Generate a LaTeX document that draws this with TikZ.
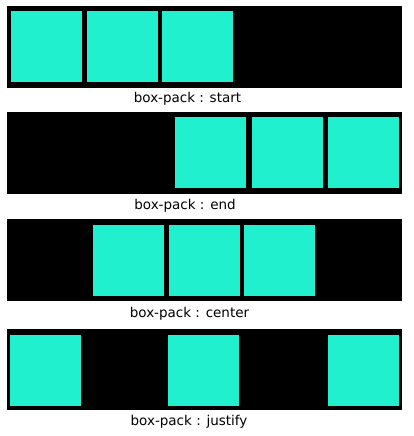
\documentclass[tikz,border=0pt]{standalone}
\usepackage{fontspec}
\setmainfont{DejaVu Sans}
\definecolor{turq}{RGB}{32,240,206}
\tikzset{
  panel/.style={fill=black,draw=none},
  cell/.style={fill=turq,draw=none,minimum size=71pt,inner sep=0pt},
  caption/.style={font=\fontsize{13.5}{15}\selectfont,inner sep=0pt}
}
\begin{document}
\begin{tikzpicture}[x=1pt,y=-1pt]
        \useasboundingbox (0,0) rectangle (413,436);
        % start
        \fill[panel] (7,6) rectangle (402,88);
        \node[cell,anchor=north west] (s1) at (11,11) {};
        \node[cell,anchor=north west] (s2) at (87,11) {};
        \node[cell,anchor=north west] (s3) at (162,11) {};
        \node[caption] (ls) at (187.5,98.5) {box-pack : start};
        % end
        \fill[panel] (7,112) rectangle (402,194);
        \node[cell,anchor=north west] (e1) at (175,117) {};
        \node[cell,anchor=north west] (e2) at (252,117) {};
        \node[cell,anchor=north west] (e3) at (328,117) {};
        \node[caption] (le) at (185,205.5) {box-pack : end};
        % center
        \fill[panel] (7,219) rectangle (402,301);
        \node[cell,anchor=north west] (c1) at (93,225) {};
        \node[cell,anchor=north west] (c2) at (169,225) {};
        \node[cell,anchor=north west] (c3) at (244,225) {};
        \node[caption] (lc) at (189.5,313.5) {box-pack : center};
        % justify
        \fill[panel] (7,329) rectangle (402,410);
        \node[cell,anchor=north west] (j1) at (10,335) {};
        \node[cell,anchor=north west] (j2) at (168,335) {};
        \node[cell,anchor=north west] (j3) at (328,335) {};
        \node[caption] (lj) at (189,421.5) {box-pack : justify};
    \end{tikzpicture}
\end{document}
